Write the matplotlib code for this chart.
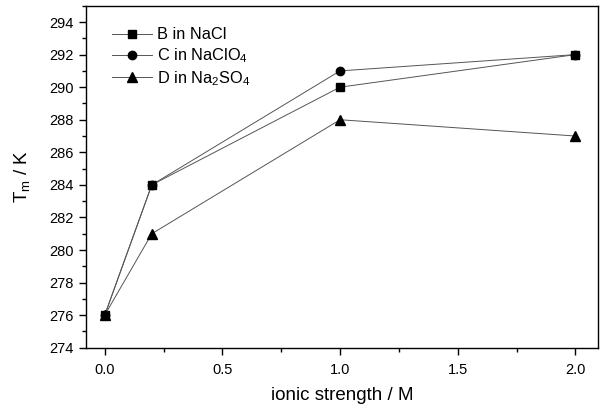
import numpy as np
import matplotlib
matplotlib.use("Agg")
import matplotlib.pyplot as plt
from matplotlib.ticker import MultipleLocator

plt.rcParams['font.family'] = ['Liberation Sans', 'DejaVu Sans']
plt.rcParams['mathtext.default'] = 'regular'

# data
ionic = [0.0, 0.2, 1.0, 2.0]
tm_B = [276, 284, 290, 292]
tm_C = [276, 284, 291, 292]
tm_D = [276, 281, 288, 287]
labels = ['B in NaCl', 'C in NaClO$_4$', 'D in Na$_2$SO$_4$']

fig = plt.figure(figsize=(6.05, 4.11), dpi=100)
ax = fig.add_axes([0.142, 0.154, 0.846, 0.832])

line_kw = dict(color='#555555', lw=0.7, mfc='black', mec='black')
ax.plot(ionic, tm_B, marker='s', ms=6, label=labels[0], **line_kw)
ax.plot(ionic, tm_C, marker='o', ms=6, label=labels[1], **line_kw)
ax.plot(ionic, tm_D, marker='^', ms=7, label=labels[2], **line_kw)

ax.set_xlim(-0.08, 2.095)
ax.set_ylim(274, 295)
ax.xaxis.set_major_locator(MultipleLocator(0.5))
ax.xaxis.set_minor_locator(MultipleLocator(0.25))
ax.yaxis.set_major_locator(MultipleLocator(2))
ax.yaxis.set_minor_locator(MultipleLocator(1))
ax.xaxis.set_major_formatter(plt.FormatStrFormatter('%.1f'))
ax.tick_params(which='both', direction='out', labelsize=10.5, width=1.0)
ax.tick_params(which='major', length=5)
ax.tick_params(axis='x', which='major', pad=6)
ax.tick_params(which='minor', length=3)
for s in ax.spines.values():
    s.set_linewidth(1.0)

ax.set_xlabel('ionic strength / M', fontsize=13.5, labelpad=7)
ax.set_ylabel('T$_m$ / K', fontsize=13.5, labelpad=13)

leg = ax.legend(loc='upper left', frameon=False, fontsize=11.8,
                bbox_to_anchor=(0.05, 0.937), handlelength=2.5,
                handletextpad=0.3, labelspacing=0.25, borderaxespad=0,
                borderpad=0)

fig.savefig('out.png', dpi=100)
